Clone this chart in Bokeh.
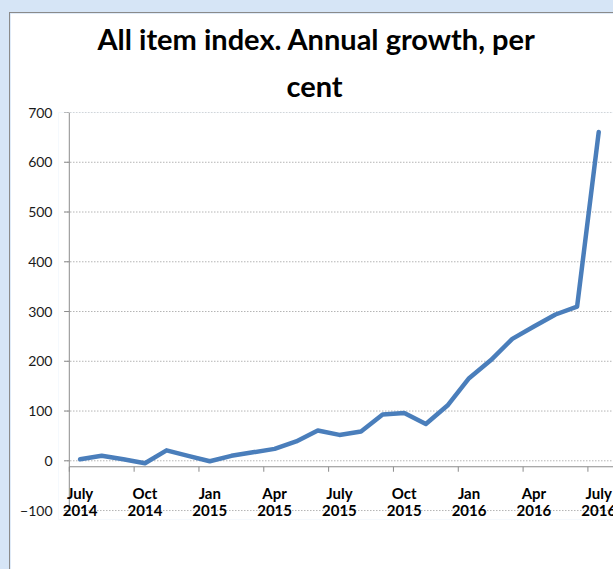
from bokeh.plotting import figure
from bokeh.layouts import column
from bokeh.models import Title, Range1d, FixedTicker, ColumnDataSource
from bokeh.core.properties import value
from bokeh.embed import file_html
from bokeh.resources import INLINE

# ---- data ----
months = ["Jul 2014", "Aug 2014", "Sep 2014", "Oct 2014", "Nov 2014", "Dec 2014",
          "Jan 2015", "Feb 2015", "Mar 2015", "Apr 2015", "May 2015", "Jun 2015",
          "Jul 2015", "Aug 2015", "Sep 2015", "Oct 2015", "Nov 2015", "Dec 2015",
          "Jan 2016", "Feb 2016", "Mar 2016", "Apr 2016", "May 2016", "Jun 2016",
          "Jul 2016"]
growth = [3, 10, 3, -5, 21, 10, -1, 10, 17, 24, 39, 61, 52, 59, 93, 96, 74, 111,
          166, 202, 245, 270, 294, 310, 661]
tick_months = ["July", "Oct", "Jan", "Apr", "July", "Oct", "Jan", "Apr", "July"]
tick_years = ["2014", "2014", "2015", "2015", "2015", "2015", "2016", "2016", "2016"]
tick_index = [0, 3, 6, 9, 12, 15, 18, 21, 24]
y_ticks = [-100, 0, 100, 200, 300, 400, 500, 600, 700]
axis_cross = -12

xs = list(range(len(growth)))
n = len(growth)
FONT = "Lato"
AXIS_GRAY = "#8c8c8c"

p = figure(width=604, height=557, output_backend="svg", toolbar_location=None,
           title=None,
           x_range=Range1d(-1.0, n - 0.27), y_range=Range1d(-118, 700),
           min_border_left=48, min_border_right=0, min_border_bottom=51,
           min_border_top=99)
p.margin = (12, 0, 0, 9)
p.background_fill_color = "white"
p.border_fill_color = "white"
p.outline_line_color = None
p.styles = {"border-top": "1px solid #8a8a8a", "border-left": "1px solid #8a8a8a"}

p.add_layout(Title(text="cent", align="left", offset=217 + 11, standoff=20,
                   text_font=FONT, text_font_size="29px", text_font_style="bold",
                   text_color="black"), "above")
p.add_layout(Title(text="All item index. Annual growth, per", align="left",
                   offset=28 + 11, standoff=0,
                   text_font=FONT, text_font_size="29px", text_font_style="bold",
                   text_color="black"), "above")

# grid (drawn as dotted segments starting at the tick marks)
p.xgrid.visible = False
p.ygrid.visible = False
p.segment(x0=[-0.73] * len(y_ticks), y0=y_ticks, x1=[n] * len(y_ticks), y1=y_ticks,
          line_color="#8f8f8f", line_dash="1 2", line_width=1)

# y axis: labels from Bokeh, line and ticks drawn in data space
p.yaxis.ticker = FixedTicker(ticks=y_ticks)
p.yaxis.axis_line_color = None
p.yaxis.major_tick_line_color = None
p.yaxis.major_tick_out = 0
p.yaxis.major_tick_in = 0
p.yaxis.minor_tick_line_color = None
p.yaxis.major_label_standoff = 6
p.yaxis.major_label_text_font = FONT
p.yaxis.major_label_text_font_size = "14px"
p.yaxis.major_label_text_color = "#1a1a1a"
p.segment(x0=[-0.5], y0=[y_ticks[0]], x1=[-0.5], y1=[y_ticks[-1]],
          line_color=AXIS_GRAY, line_width=1)
p.segment(x0=[-0.73] * len(y_ticks), y0=y_ticks, x1=[-0.5] * len(y_ticks), y1=y_ticks,
          line_color=AXIS_GRAY, line_width=1)

# hide default x axis
p.xaxis.visible = False

# custom category axis crossing at axis_cross
p.segment(x0=[-0.5], y0=[axis_cross], x1=[n], y1=[axis_cross],
          line_color=AXIS_GRAY, line_width=1)
tick_x = [i - 0.5 for i in tick_index]
p.segment(x0=tick_x, y0=[axis_cross] * len(tick_x), x1=tick_x,
          y1=[axis_cross - 10] * len(tick_x), line_color=AXIS_GRAY, line_width=1)

# series
p.line(xs, growth, line_color="#4a7ebb", line_width=4.5, line_join="round",
       line_cap="round")

lab_src = ColumnDataSource(dict(x=tick_index, m=tick_months, yr=tick_years,
                                ym=[-64] * len(tick_index), yy=[-100] * len(tick_index)))
for col, ycol in (("m", "ym"), ("yr", "yy")):
    p.text(x="x", y=ycol, text=col, source=lab_src,
           text_align="center", text_baseline="middle",
           text_font=value(FONT), text_font_size="15px",
           text_font_style="bold", text_color="black")

root = column(p)
root.styles = {"background-color": "#d6e5f6"}
p_page = root

open("out.html", "w").write(file_html(p_page, INLINE))
